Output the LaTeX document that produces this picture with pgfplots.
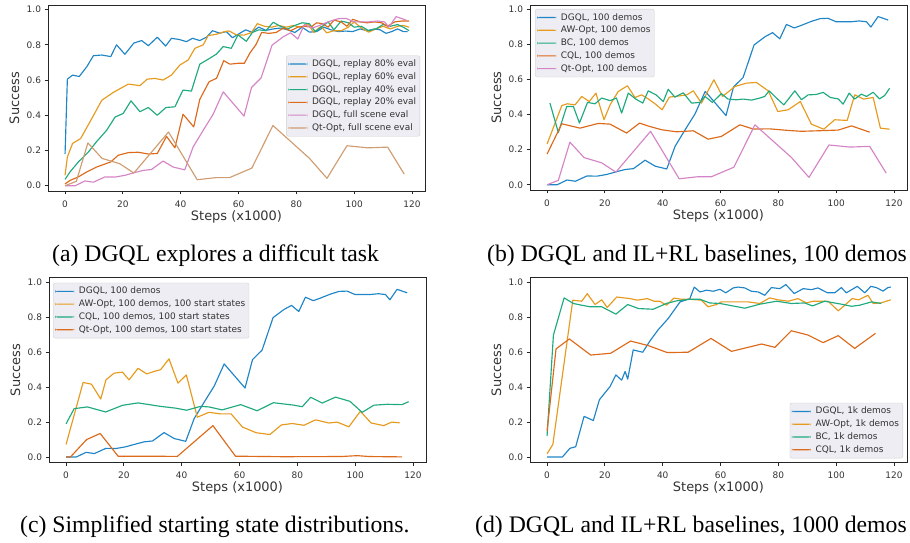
\documentclass[border=0pt]{standalone}
\usepackage{fontspec}
\setmainfont{DejaVu Sans}
\newfontfamily\capfont{Liberation Serif}
\usepackage{pgfplots}
\pgfplotsset{compat=1.18}
\definecolor{cb0}{HTML}{1F85C6}
\definecolor{cb1}{HTML}{E69A1E}
\definecolor{cb2}{HTML}{1EA97F}
\definecolor{cb3}{HTML}{DC6A1A}
\definecolor{cb4}{HTML}{D585C6}
\definecolor{cb5}{HTML}{D09D72}
\definecolor{framec}{HTML}{262626}
\definecolor{txt}{HTML}{333333}
\definecolor{legfill}{HTML}{EDEDF3}
\definecolor{legedge}{HTML}{D0D0D0}
\pgfplotsset{legend image code/.code={\fill[#1, draw=none] (0bp,-0.6bp) rectangle (19bp,0.6bp);}}
\pgfplotsset{
  panel/.style={
    scale only axis, width=377bp,
    xmin=-5.9, xmax=124.5, ymin=-0.03, ymax=1.026,
    xtick={0,20,40,60,80,100,120}, ytick={0,0.2,0.4,0.6,0.8,1.0},
    tick pos=left, tick align=outside,
    major tick length=3.5bp,
    every tick/.style={framec, line width=0.8bp},
    axis line style={framec, line width=0.9bp},
    ticklabel style={font=\fontsize{9}{10}\selectfont, text=txt},
    xticklabel style={yshift=-3bp},
    /pgf/number format/assume math mode=true,
    yticklabel style={/pgf/number format/fixed, /pgf/number format/fixed zerofill, /pgf/number format/precision=1},
    xlabel={Steps (x1000)}, ylabel={Success},
    every axis x label/.style={at={(axis description cs:0.5,0)}, anchor=center, yshift=-25.5bp, font=\fontsize{13}{15}\selectfont, text=txt},
    every axis y label/.style={at={(axis description cs:0,0.5)}, anchor=center, rotate=90, yshift=33.5bp, font=\fontsize{13}{15}\selectfont, text=txt},
    legend cell align=left,
    legend style={fill=legfill, draw=legedge, rounded corners=2bp, font=\fontsize{9}{10}\selectfont\color{txt}, inner xsep=2bp, inner ysep=2bp, row sep=0bp, column sep=3bp, nodes={inner sep=1.7bp, text height=0.72em, text depth=0.22em}},
    every axis plot/.append style={line width=1.15bp, line join=round},
  }
}
\begin{document}
\begin{tikzpicture}
\useasboundingbox (0,0) rectangle (910bp,543bp);
% ---------------- (a)
\begin{axis}[panel, height=186bp, at={(48bp,352bp)}, anchor=south west,
  legend style={at={(axis description cs:1,0.5)}, anchor=east, xshift=-5bp, yshift=2bp}]
\addplot[cb0] coordinates {(0,0.18)(0.8,0.605)(2.6,0.628)(4.9,0.62)(7.5,0.675)(9.8,0.738)(12.7,0.742)(15.8,0.733)(17.8,0.80)(20.7,0.746)(23.8,0.81)(26.5,0.824)(28.8,0.795)(31.9,0.843)(34.8,0.793)(36.8,0.837)(39.5,0.83)(42,0.818)(44.1,0.837)(46.6,0.824)(48.9,0.843)(51,0.88)(53.5,0.866)(55.8,0.875)(57.9,0.84)(60.4,0.865)(62.5,0.885)(64.5,0.872)(67,0.90)(69.5,0.882)(72,0.89)(74.5,0.895)(77,0.885)(79.5,0.87)(82,0.90)(84.5,0.872)(87,0.875)(89.5,0.90)(92,0.885)(94.5,0.875)(97,0.878)(99.5,0.875)(102,0.89)(104.5,0.88)(107,0.89)(109,0.885)(111,0.865)(113,0.875)(115,0.89)(117,0.875)(118.5,0.875)};
\addlegendentry{DGQL, replay 80\% eval}
\addplot[cb1] coordinates {(0,0.059)(0.8,0.163)(2.6,0.24)(5.4,0.268)(9.2,0.38)(12.7,0.485)(16.7,0.53)(21.9,0.577)(25.9,0.568)(28.4,0.605)(31.1,0.609)(33.9,0.6)(36.8,0.628)(39.7,0.685)(42.6,0.714)(44.9,0.78)(47.8,0.80)(49.5,0.852)(52.4,0.86)(55.2,0.875)(56.7,0.879)(59.3,0.856)(62,0.855)(64.5,0.87)(66.5,0.92)(69,0.905)(71.5,0.90)(74,0.91)(76.5,0.90)(79,0.91)(81.5,0.90)(84,0.92)(86,0.87)(88.5,0.905)(90.5,0.868)(93,0.88)(95.5,0.88)(98,0.90)(100,0.93)(102.5,0.895)(105,0.872)(107.5,0.89)(110,0.905)(112.5,0.89)(115,0.905)(117,0.91)(119,0.90)};
\addlegendentry{DGQL, replay 60\% eval}
\addplot[cb2] coordinates {(0,0.036)(1.7,0.078)(4.6,0.135)(8,0.19)(10.9,0.25)(14.4,0.315)(17.3,0.39)(20.1,0.41)(22.8,0.482)(25.9,0.42)(28.8,0.444)(31.9,0.40)(34.9,0.444)(38,0.448)(40.8,0.543)(43.7,0.537)(46.6,0.69)(50,0.723)(52.4,0.748)(54.7,0.79)(57.5,0.78)(59.8,0.856)(62.7,0.82)(64.8,0.87)(67,0.885)(69.5,0.88)(72,0.928)(74.5,0.905)(77,0.89)(79.5,0.91)(82,0.925)(84.5,0.92)(86.5,0.875)(89,0.905)(91,0.93)(93,0.885)(95.5,0.935)(98,0.925)(100,0.90)(102.5,0.905)(105,0.88)(107.5,0.89)(110,0.915)(112.5,0.905)(115,0.915)(117,0.90)(119,0.88)};
\addlegendentry{DGQL, replay 40\% eval}
\addplot[cb3] coordinates {(0,0.01)(1.7,0.03)(4.6,0.05)(7.5,0.078)(10.9,0.106)(14.4,0.127)(15.8,0.135)(18.4,0.173)(21.9,0.188)(25.3,0.19)(28.8,0.18)(31.9,0.183)(35.1,0.28)(38,0.215)(40.8,0.406)(44.5,0.334)(46.6,0.49)(49.8,0.59)(52.4,0.61)(54.9,0.71)(57,0.69)(59.8,0.695)(62,0.695)(64,0.755)(66,0.80)(68,0.87)(70.5,0.865)(73,0.87)(75.5,0.895)(78,0.88)(80.5,0.90)(83,0.905)(85,0.90)(87,0.925)(89,0.92)(91,0.90)(93,0.94)(95.5,0.93)(97.5,0.905)(99.5,0.945)(102,0.93)(104.5,0.925)(107,0.93)(109.5,0.925)(111.5,0.905)(114,0.93)(116.5,0.935)(119,0.935)};
\addlegendentry{DGQL, replay 20\% eval}
\addplot[cb4] coordinates {(0,0)(3.5,0)(6.9,0.027)(9.8,0.02)(13.8,0.05)(17.3,0.049)(20.7,0.059)(24.2,0.075)(27,0.087)(29.9,0.092)(33.9,0.14)(37.4,0.106)(41.4,0.09)(44.3,0.22)(47.8,0.315)(51.2,0.405)(54.7,0.533)(61.9,0.395)(64.5,0.558)(67.8,0.612)(71.6,0.798)(75.4,0.845)(78,0.868)(80.5,0.833)(82.8,0.915)(85.5,0.895)(88,0.91)(91.5,0.933)(94.4,0.948)(97.2,0.95)(100,0.93)(105,0.93)(108,0.935)(110.5,0.93)(112,0.9)(114.5,0.96)(118,0.94)};
\addlegendentry{DGQL, full scene eval}
\addplot[cb5] coordinates {(0,0)(3.9,0.025)(7.9,0.243)(12.8,0.155)(18.9,0.125)(23.8,0.072)(35.8,0.305)(45.7,0.034)(52.3,0.046)(56.9,0.046)(64.6,0.1)(71.9,0.342)(84.5,0.156)(90.6,0.042)(97.5,0.227)(104.7,0.215)(111.6,0.219)(117.3,0.066)};
\addlegendentry{Qt-Opt, full scene eval}
\end{axis}
% ---------------- (b)
\begin{axis}[panel, height=185bp, at={(530bp,353bp)}, anchor=south west,
  legend style={at={(axis description cs:0,1)}, anchor=north west, xshift=5bp, yshift=-4bp}]
\addplot[cb0] coordinates {(0,0)(3.5,0)(6.9,0.027)(9.8,0.02)(13.8,0.05)(17.3,0.049)(20.7,0.059)(24.2,0.075)(27,0.087)(29.9,0.092)(33.9,0.14)(37.4,0.106)(41.4,0.09)(44.3,0.22)(47.8,0.315)(51.2,0.405)(54.7,0.533)(61.9,0.395)(64.5,0.558)(67.8,0.612)(71.6,0.798)(75.4,0.845)(78,0.868)(80.5,0.833)(82.8,0.915)(85.5,0.895)(88,0.91)(91.5,0.933)(94.4,0.948)(97.2,0.95)(100,0.93)(105,0.93)(108,0.935)(110.5,0.93)(112,0.9)(114.5,0.96)(118,0.94)};
\addlegendentry{DGQL, 100 demos}
\addplot[cb1] coordinates {(0,0.232)(5.1,0.452)(7,0.462)(9.7,0.456)(12,0.504)(14.6,0.475)(16.9,0.523)(19.7,0.371)(21.8,0.456)(24.6,0.532)(27.8,0.565)(30.4,0.498)(32.7,0.513)(35,0.49)(37.5,0.46)(39.8,0.428)(42.3,0.5)(44.8,0.505)(48.3,0.513)(50.6,0.536)(53.4,0.466)(57.7,0.599)(60.7,0.504)(65,0.561)(69,0.58)(72.4,0.584)(76.5,0.536)(79.8,0.418)(83.4,0.428)(87.6,0.475)(91.4,0.346)(95.7,0.317)(99.5,0.371)(103.8,0.367)(106.4,0.513)(109.5,0.489)(112.8,0.498)(115.3,0.323)(118.5,0.317)};
\addlegendentry{AW-Opt, 100 demos}
\addplot[cb2] coordinates {(1,0.466)(3.9,0.298)(6.8,0.447)(9.1,0.447)(11.2,0.352)(14,0.47)(16.6,0.462)(18.9,0.495)(21.8,0.48)(24,0.495)(25.8,0.409)(28.1,0.523)(30.7,0.489)(33.1,0.466)(35,0.536)(37.7,0.513)(40.2,0.475)(41.9,0.545)(44.2,0.5)(47.1,0.525)(50,0.466)(52.9,0.47)(54.6,0.504)(57.2,0.47)(60.3,0.52)(62.6,0.489)(65.5,0.485)(67.8,0.489)(70.7,0.483)(73.6,0.495)(75.3,0.504)(76.8,0.536)(79.4,0.494)(81.9,0.456)(85.7,0.536)(88,0.485)(90.3,0.513)(93,0.515)(95.5,0.527)(98,0.498)(100.7,0.49)(102.4,0.46)(104.5,0.523)(106.4,0.489)(108.7,0.517)(110.5,0.504)(112.8,0.528)(115,0.49)(116.8,0.51)(118.5,0.551)};
\addlegendentry{BC, 100 demos}
\addplot[cb3] coordinates {(0,0.175)(5.1,0.348)(11.4,0.323)(17.7,0.35)(21.8,0.346)(27.5,0.295)(32,0.352)(35,0.335)(39.6,0.314)(44.8,0.302)(50.6,0.308)(55.7,0.26)(60.3,0.276)(66.7,0.342)(71.3,0.318)(77,0.319)(83.4,0.31)(88,0.305)(93.7,0.308)(100.7,0.312)(105.3,0.336)(111.6,0.3)};
\addlegendentry{CQL, 100 demos}
\addplot[cb4] coordinates {(0,0)(3.9,0.025)(7.9,0.243)(12.8,0.155)(18.9,0.125)(23.8,0.072)(35.8,0.305)(45.7,0.034)(52.3,0.046)(56.9,0.046)(64.6,0.1)(71.9,0.342)(84.5,0.156)(90.6,0.042)(97.5,0.227)(104.7,0.215)(111.6,0.219)(117.3,0.066)};
\addlegendentry{Qt-Opt, 100 demos}
\end{axis}
% ---------------- (c)
\begin{axis}[panel, height=184.5bp, at={(49bp,80.7bp)}, anchor=south west,
  legend style={at={(axis description cs:0,1)}, anchor=north west, xshift=4bp, yshift=-5bp}]
\addplot[cb0] coordinates {(0,0)(3.5,0)(6.9,0.027)(9.8,0.02)(13.8,0.05)(17.3,0.049)(20.7,0.059)(24.2,0.075)(27,0.087)(29.9,0.092)(33.9,0.14)(37.4,0.106)(41.4,0.09)(44.3,0.22)(47.8,0.315)(51.2,0.405)(54.7,0.533)(61.9,0.395)(64.5,0.558)(67.8,0.612)(71.6,0.798)(75.4,0.845)(78,0.868)(80.5,0.833)(82.8,0.915)(85.5,0.895)(88,0.91)(91.5,0.933)(94.4,0.948)(97.2,0.95)(100,0.93)(105,0.93)(108,0.935)(110.5,0.93)(112,0.9)(114.5,0.96)(118,0.94)};
\addlegendentry{DGQL, 100 demos}
\addplot[cb1] coordinates {(0,0.072)(5.9,0.427)(8.8,0.417)(12,0.332)(13.8,0.442)(16.6,0.48)(19.5,0.486)(21.8,0.442)(24.9,0.508)(27.9,0.476)(31,0.493)(32.7,0.5)(35.6,0.562)(38.7,0.423)(41.6,0.47)(45.4,0.228)(49.4,0.256)(53.5,0.247)(57.1,0.247)(61,0.172)(65.8,0.139)(70.5,0.129)(74.5,0.184)(78.2,0.192)(82.3,0.182)(86.3,0.213)(90.9,0.195)(93.8,0.2)(97.8,0.173)(101.8,0.262)(105.5,0.195)(109.9,0.18)(112.6,0.2)(115.4,0.196)};
\addlegendentry{AW-Opt, 100 demos, 100 start states}
\addplot[cb2] coordinates {(0,0.19)(2.8,0.277)(7.4,0.287)(13.7,0.258)(19.5,0.296)(24.9,0.31)(32.7,0.29)(37.9,0.28)(41.7,0.268)(46.5,0.29)(49.4,0.287)(54,0.27)(60.4,0.3)(66.1,0.265)(71.7,0.311)(78.8,0.297)(81.7,0.288)(84.6,0.342)(88.6,0.309)(93.2,0.343)(98.2,0.319)(102.4,0.256)(106.5,0.297)(111.1,0.302)(116.2,0.3)(118.5,0.317)};
\addlegendentry{CQL, 100 demos, 100 start states}
\addplot[cb3] coordinates {(0,0)(1.5,0)(7.1,0.1)(11.8,0.135)(18,0.005)(38.5,0.004)(50.8,0.18)(58.6,0.005)(75,0.002)(95,0.003)(100.7,0.008)(105,0.003)(116.2,0.001)};
\addlegendentry{Qt-Opt, 100 demos, 100 start states}
\end{axis}
% ---------------- (d)
\begin{axis}[panel, height=184.5bp, at={(530bp,80.7bp)}, anchor=south west,
  legend style={at={(axis description cs:1,0)}, anchor=south east, xshift=-4bp, yshift=4bp}]
\addplot[cb0] coordinates {(0,0)(5.3,0)(7.9,0.05)(9.9,0.059)(12.8,0.233)(16,0.209)(18.1,0.328)(21.8,0.404)(23.8,0.47)(25.8,0.44)(27,0.49)(27.9,0.446)(29.8,0.613)(33.1,0.6)(35.6,0.665)(38.5,0.73)(41.9,0.793)(46,0.888)(49.4,0.907)(50.9,0.973)(52.9,0.945)(55.2,0.955)(57.5,0.949)(59.8,0.96)(61.8,0.94)(64.4,0.968)(66.1,0.973)(68.4,0.968)(70.7,0.949)(73,0.945)(75.3,0.926)(77.6,0.97)(80.5,0.964)(82.6,0.987)(85.5,0.936)(88.6,0.964)(91.4,0.958)(93.7,0.968)(97,0.94)(99.5,0.94)(101.8,0.97)(103.5,0.94)(107.3,0.977)(109.9,0.94)(112,0.977)(113.9,0.97)(116.2,0.95)(117.9,0.97)(118.9,0.973)};
\addlegendentry{DGQL, 1k demos}
\addplot[cb1] coordinates {(0,0.019)(2,0.072)(8.9,0.898)(12,0.892)(13.9,0.935)(16.6,0.873)(18.9,0.9)(20.8,0.856)(24.1,0.916)(28.7,0.907)(31.2,0.898)(34.7,0.907)(37,0.892)(39,0.892)(41.3,0.869)(43.9,0.91)(46.5,0.903)(49.4,0.903)(53.4,0.898)(55.7,0.86)(58.6,0.873)(60.3,0.888)(64.7,0.888)(69.6,0.888)(73.6,0.879)(77,0.911)(79.9,0.9)(83.4,0.892)(86.8,0.907)(89.7,0.882)(92,0.892)(97.2,0.892)(100.7,0.837)(103,0.869)(105.5,0.907)(107.8,0.9)(111,0.926)(112.8,0.879)(115.4,0.882)(118.9,0.9)};
\addlegendentry{AW-Opt, 1k demos}
\addplot[cb2] coordinates {(0,0.12)(2.2,0.698)(5.9,0.911)(9.1,0.879)(12,0.869)(14.9,0.86)(18.9,0.86)(23.8,0.818)(27.9,0.873)(31.6,0.85)(36.7,0.846)(41.3,0.879)(44.8,0.894)(49.4,0.903)(52.9,0.903)(56.3,0.882)(59.8,0.879)(68.4,0.852)(73.6,0.875)(79.4,0.892)(84.5,0.879)(89.1,0.882)(91.8,0.865)(96,0.892)(101.8,0.875)(105.3,0.863)(108.1,0.869)(112.2,0.888)(115.6,0.879)};
\addlegendentry{BC, 1k demos}
\addplot[cb3] coordinates {(0,0.148)(3.1,0.619)(7.7,0.676)(15.1,0.584)(22,0.594)(28.9,0.664)(35,0.638)(41.6,0.598)(48.8,0.6)(56.7,0.679)(63.8,0.605)(74.2,0.647)(78.8,0.628)(84.5,0.723)(90.3,0.698)(95.5,0.655)(100.7,0.695)(106.4,0.622)(113.6,0.708)};
\addlegendentry{CQL, 1k demos}
\end{axis}
% ---------------- captions
\begin{scope}[every node/.style={inner sep=0pt, font=\capfont\fontsize{23.8}{26}\selectfont}]
\node[anchor=west] at (52bp,287bp) {(a) DGQL explores a difficult task};
\node[anchor=west] at (487bp,287bp) {(b) DGQL and IL+RL baselines, 100 demos};
\node[anchor=west] at (20bp,16bp) {(c) Simplified starting state distributions.};
\node[anchor=west] at (475bp,16bp) {(d) DGQL and IL+RL baselines, 1000 demos};
\end{scope}
\end{tikzpicture}
\end{document}
